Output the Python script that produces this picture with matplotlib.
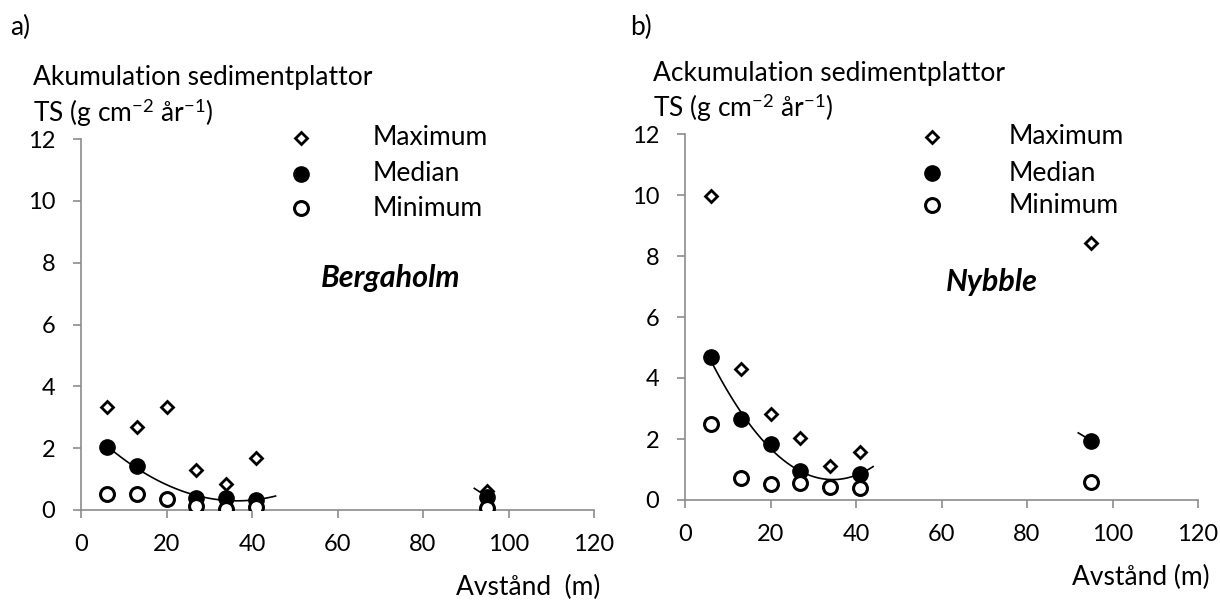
import numpy as np
import matplotlib
matplotlib.use("Agg")
import matplotlib.pyplot as plt

plt.rcParams['font.family'] = ['Lato', 'DejaVu Sans']
plt.rcParams['mathtext.fontset'] = 'custom'
plt.rcParams['mathtext.rm'] = 'Lato'
plt.rcParams['mathtext.it'] = 'Lato:italic'
plt.rcParams['mathtext.bf'] = 'Lato:bold'

# distance from the shore (m)
dist = [6, 13, 20, 27, 34, 41, 95]

# Bergaholm, accumulation TS (g cm-2 yr-1)
berg_max = [3.34, 2.70, 3.34, 1.29, 0.84, 1.67, 0.62]
berg_med = [2.05, 1.42, np.nan, 0.38, 0.38, 0.32, 0.43]
berg_min = [0.51, 0.51, 0.35, 0.14, 0.02, 0.10, 0.05]

# Nybble
nyb_max = [9.97, 4.29, 2.81, 2.02, 1.13, 1.57, 8.44]
nyb_med = [4.68, 2.66, 1.84, 0.95, np.nan, 0.85, 1.95]
nyb_min = [2.49, 0.73, 0.51, 0.55, 0.44, 0.38, 0.60]

# short trend tail next to the 95 m station
tail_x = [92, 95]
berg_tail = [0.70, 0.43]
nyb_tail = [2.20, 1.95]

xticks = [0, 20, 40, 60, 80, 100, 120]
yticks = [0, 2, 4, 6, 8, 10, 12]

grey = '#8c8c8c'
fs = 19
styles = {
    'Maximum': dict(marker='D', ms=6.6, mfc='white', mec='black', mew=2.0, ls='none'),
    'Median': dict(marker='o', ms=11, mfc='black', mec='black', mew=1.0, ls='none'),
    'Minimum': dict(marker='o', ms=10, mfc='white', mec='black', mew=2.2, ls='none'),
}


def panel(ax, vmax, vmed, vmin, tail, site, site_xy, fit_end,
          ylab1, ylab_x, xlab, xlab_xy, leg_x, leg_y):
    x = np.array(dist, dtype=float)
    med = np.array(vmed, dtype=float)

    # 2nd order trend line through the near-shore medians
    near = (x < 60) & np.isfinite(med)
    coef = np.polyfit(x[near], med[near], 2)
    xf = np.linspace(6, fit_end, 100)
    ax.plot(xf, np.polyval(coef, xf), color='black', lw=1.2, zorder=2)
    ax.plot(tail_x, tail, color='black', lw=1.2, zorder=2)

    ax.plot(x, vmax, zorder=3, **styles['Maximum'])
    ax.plot(x, med, zorder=3, **styles['Median'])
    ax.plot(x, vmin, zorder=4, **styles['Minimum'])

    ax.set_xlim(0, 120)
    ax.set_ylim(0, 12)
    ax.set_xticks(xticks)
    ax.set_yticks(yticks)
    for s in ['top', 'right']:
        ax.spines[s].set_visible(False)
    for s in ['left', 'bottom']:
        ax.spines[s].set_color(grey)
        ax.spines[s].set_linewidth(1.2)
    ax.tick_params(axis='both', colors=grey, labelcolor='black', labelsize=17,
                   length=5.5, width=1.2, direction='out')
    ax.tick_params(axis='x', pad=12)
    ax.tick_params(axis='y', pad=13)

    # axis captions
    ax.text(ylab_x, 1.165, ylab1, transform=ax.transAxes, fontsize=fs,
            ha='left', va='center')
    ax.text(ylab_x, 1.07, r'TS (g cm$^{-2}$ år$^{-1}$)', transform=ax.transAxes,
            fontsize=fs, ha='left', va='center')
    ax.text(xlab_xy[0], xlab_xy[1], xlab, transform=ax.transAxes, fontsize=fs,
            ha='right', va='center')

    ax.text(site_xy[0], site_xy[1], site, fontsize=22, fontweight='bold',
            fontstyle='italic', ha='center', va='center')

    # legend rows
    for i, lab in enumerate(['Maximum', 'Median', 'Minimum']):
        ax.plot([leg_x[0]], [leg_y[i]], transform=ax.transAxes, clip_on=False,
                **styles[lab])
        ax.text(leg_x[1], leg_y[i], lab, transform=ax.transAxes, fontsize=fs,
                ha='left', va='center')


fig = plt.figure(figsize=(12.2, 6), dpi=100)
ax_a = fig.add_axes([81 / 1220, 90 / 600, 513 / 1220, 371 / 600])
ax_b = fig.add_axes([685 / 1220, 100 / 600, 513 / 1220, 366 / 600])

panel(ax_a, berg_max, berg_med, berg_min, berg_tail, 'Bergaholm', (72.3, 7.5), 45.5,
      'Akumulation sedimentplattor', -0.094, 'Avstånd  (m)', (1.012, -0.208),
      (0.429, 0.569), (1.003, 0.906, 0.814))
panel(ax_b, nyb_max, nyb_med, nyb_min, nyb_tail, 'Nybble', (71.8, 7.15), 44,
      'Ackumulation sedimentplattor', -0.062, 'Avstånd (m)', (1.023, -0.213),
      (0.481, 0.63), (0.992, 0.893, 0.806))

fig.text(10 / 1220, 1 - 27 / 600, 'a)', fontsize=fs, ha='left', va='center')
fig.text(630 / 1220, 1 - 27 / 600, 'b)', fontsize=fs, ha='left', va='center')

fig.savefig('out.png', dpi=100)
